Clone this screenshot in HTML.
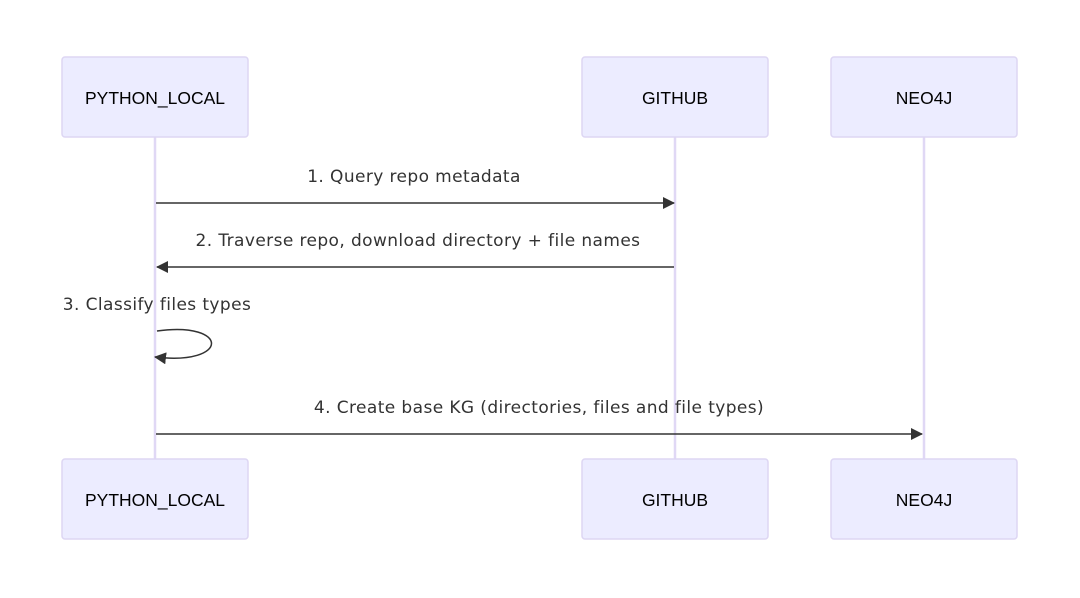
<!DOCTYPE html>
<html><head><meta charset="utf-8"><style>body{margin:0;background:#fff}svg{display:block}text{font-family:"DejaVu Sans","Liberation Sans",sans-serif;fill:#333;font-size:17px;letter-spacing:0.4px}.t{font-family:"Liberation Sans",sans-serif;font-size:17.5px;letter-spacing:0;fill:#000}</style></head><body>
<svg width="1080" height="598" viewBox="0 0 1080 598" xmlns="http://www.w3.org/2000/svg">
<defs><marker id="a" markerWidth="12" markerHeight="12" refX="11" refY="6" orient="auto" markerUnits="userSpaceOnUse"><path d="M0,0 L12,6 L0,12 z" fill="#333"/></marker></defs>
<g stroke="#e0d8f5" stroke-width="2.5">
<line x1="155" y1="137" x2="155" y2="459"/><line x1="675" y1="137" x2="675" y2="459"/><line x1="924" y1="137" x2="924" y2="459"/></g>
<g fill="#ececff" stroke="#ddd6f3" stroke-width="1.5">
<rect x="62" y="57" width="186" height="80" rx="3"/><rect x="582" y="57" width="186" height="80" rx="3"/><rect x="831" y="57" width="186" height="80" rx="3"/>
<rect x="62" y="459" width="186" height="80" rx="3"/><rect x="582" y="459" width="186" height="80" rx="3"/><rect x="831" y="459" width="186" height="80" rx="3"/></g>
<g text-anchor="middle">
<text class="t" x="155" y="104">PYTHON_LOCAL</text><text class="t" x="675" y="104">GITHUB</text><text class="t" x="924" y="104">NEO4J</text>
<text class="t" x="155" y="506">PYTHON_LOCAL</text><text class="t" x="675" y="506">GITHUB</text><text class="t" x="924" y="506">NEO4J</text></g>
<g stroke="#333" stroke-width="1.5" fill="none">
<line x1="156" y1="203" x2="674" y2="203" marker-end="url(#a)"/>
<line x1="674" y1="267" x2="157" y2="267" marker-end="url(#a)"/>
<path d="M157,331 C230,321 230,366 155,357" marker-end="url(#a)"/>
<line x1="156" y1="434" x2="922" y2="434" marker-end="url(#a)"/></g>
<g text-anchor="middle">
<text x="414" y="182">1. Query repo metadata</text>
<text x="418" y="246">2. Traverse repo, download directory + file names</text>
<text x="157" y="310">3. Classify files types</text>
<text x="539" y="413">4. Create base KG (directories, files and file types)</text></g>
</svg></body></html>
